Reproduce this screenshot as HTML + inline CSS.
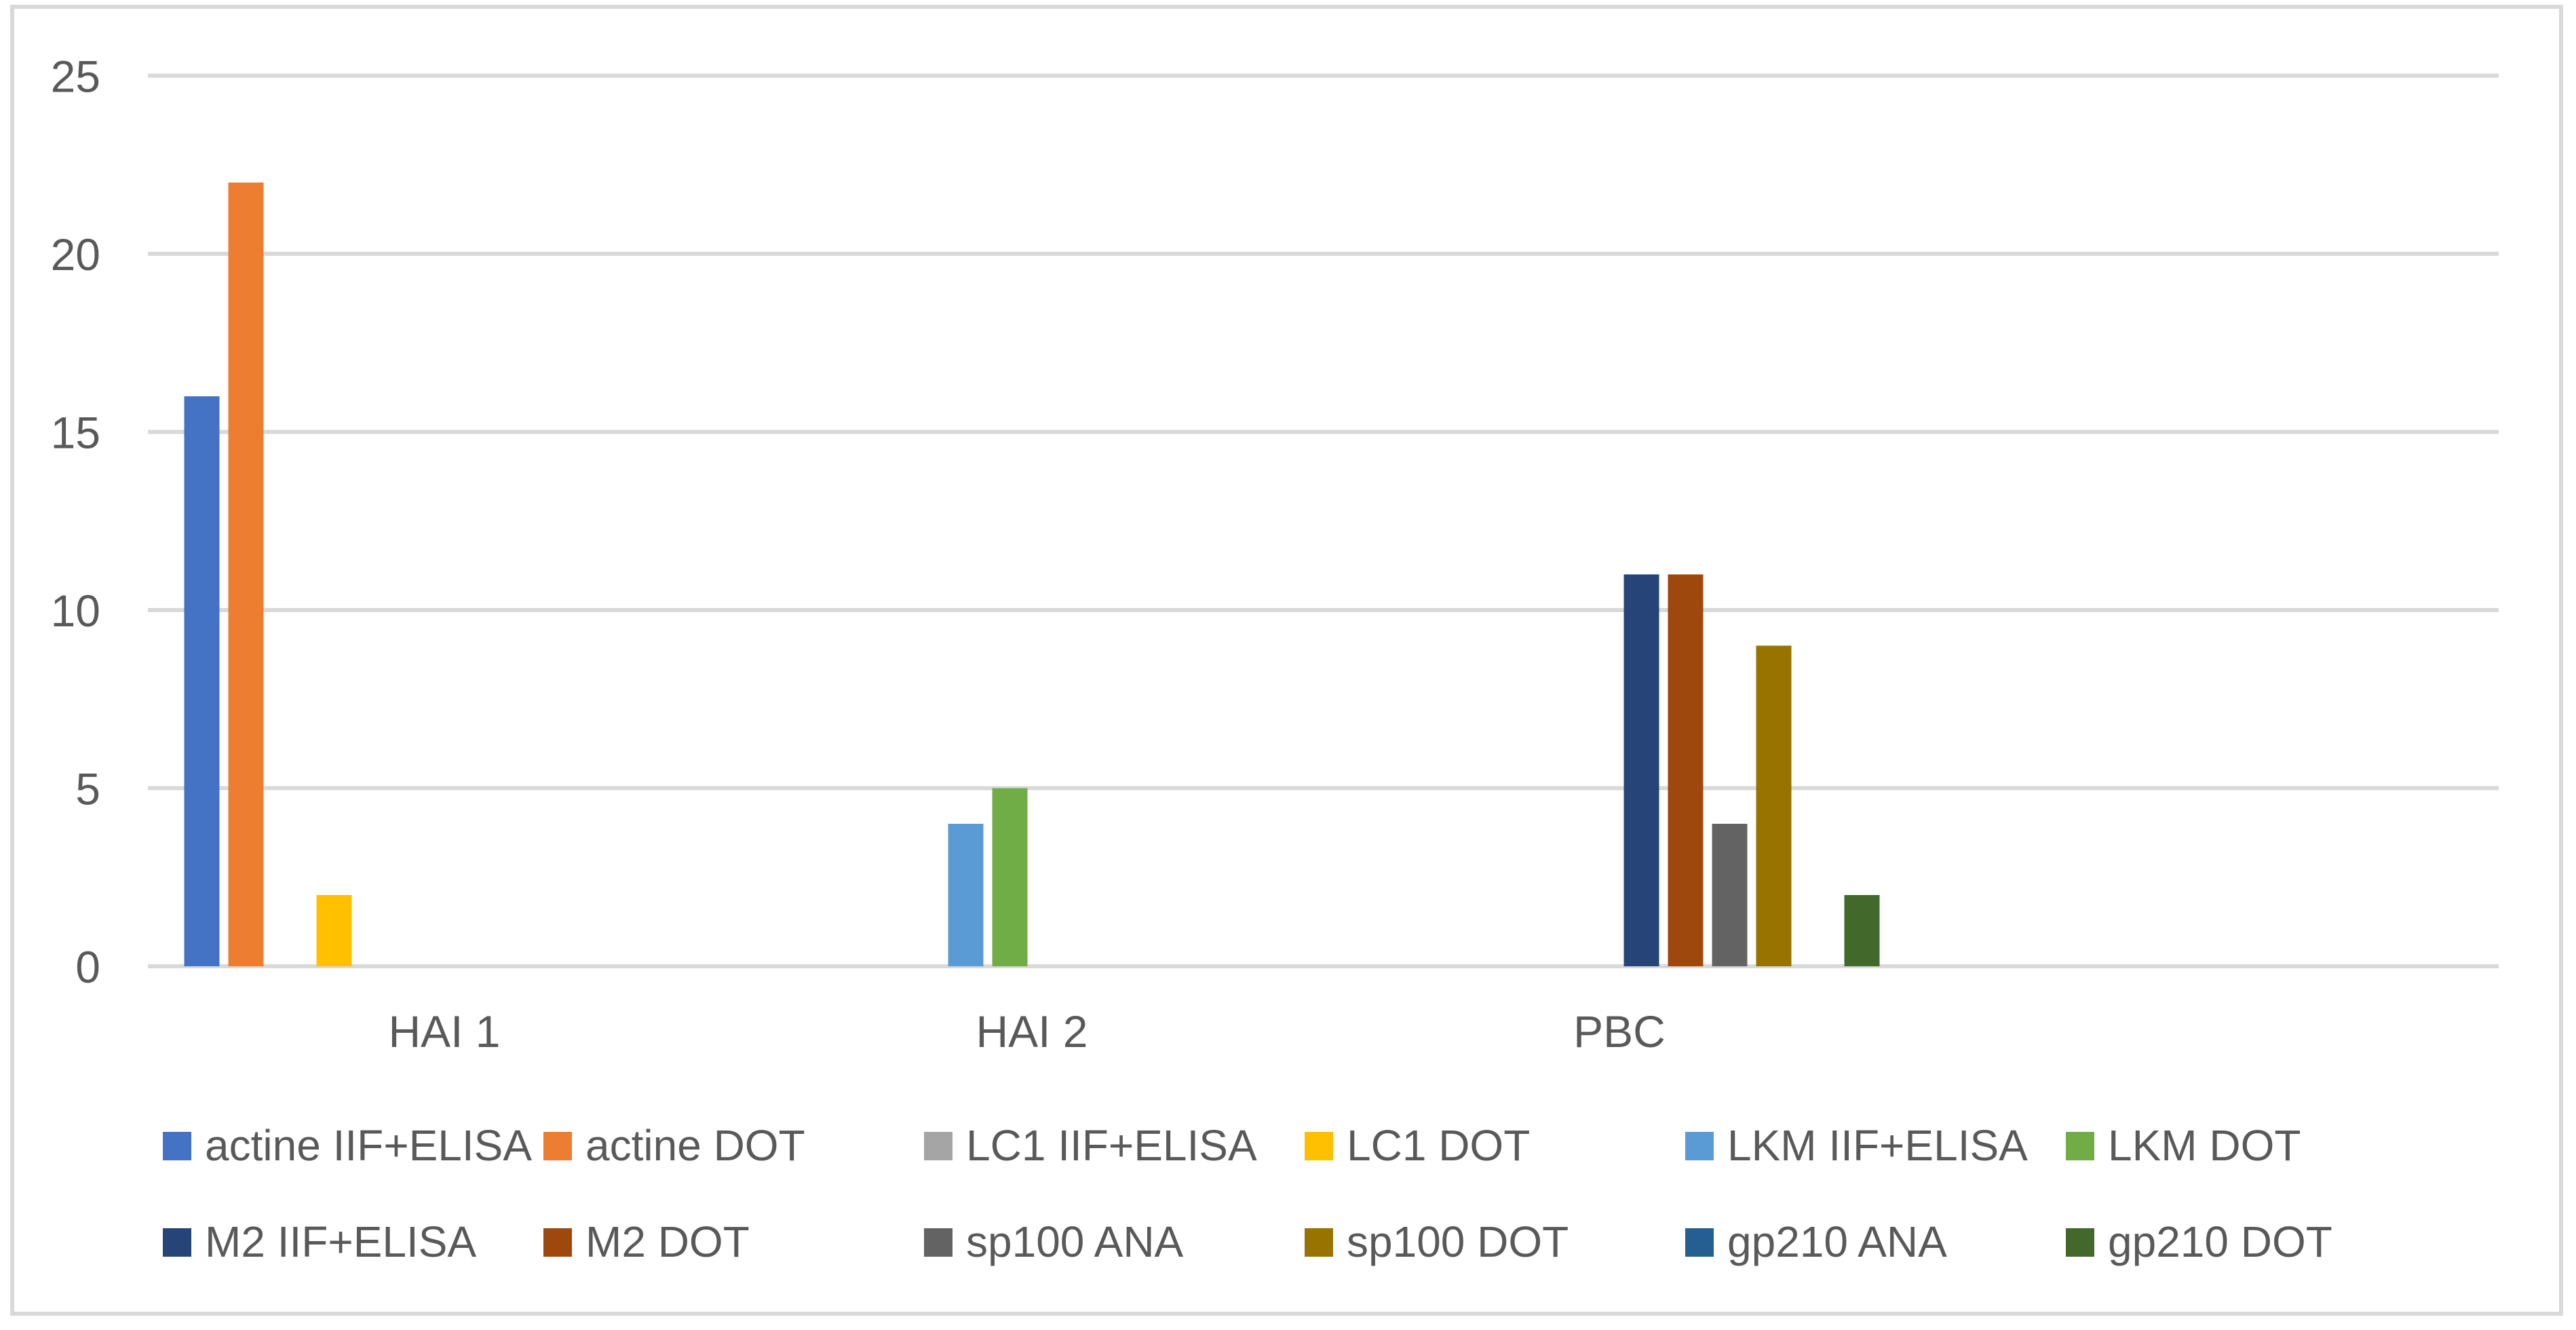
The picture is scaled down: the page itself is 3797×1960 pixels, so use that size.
<!DOCTYPE html>
<html><head><meta charset="utf-8"><style>
body{margin:0;background:#fff;}
svg{display:block;font-family:"Liberation Sans",sans-serif;}
</style></head><body>
<svg id="chart" width="3797" height="1960">
<rect x="18" y="10" width="3757" height="1926" fill="#fff" stroke="#d9d9d9" stroke-width="6"/>
<g id="grid"></g><g id="yticks"></g><g id="bars"></g><g id="xlabels"></g><g id="legend"></g>
</svg>
<script>
const categories = ["HAI 1", "HAI 2", "PBC", ""];
const seriesNames = ["actine IIF+ELISA","actine DOT","LC1 IIF+ELISA","LC1 DOT","LKM IIF+ELISA","LKM DOT","M2 IIF+ELISA","M2 DOT","sp100 ANA","sp100 DOT","gp210 ANA","gp210 DOT"];
const seriesColors = ["#4472C4","#ED7D31","#A5A5A5","#FFC000","#5B9BD5","#70AD47","#264478","#9E480E","#636363","#997300","#255E91","#43682B"];
const hai1Values = [16,22,0,2,0,0,0,0,0,0,0,0];
const hai2Values = [0,0,0,0,4,5,0,0,0,0,0,0];
const pbcValues  = [0,0,0,0,0,0,11,11,4,9,0,2];
const emptyValues = [0,0,0,0,0,0,0,0,0,0,0,0];
const tickValues = [0,5,10,15,20,25];

const NS="http://www.w3.org/2000/svg";
const values=[hai1Values,hai2Values,pbcValues,emptyValues];
const y0=1424, unit=52.5, plotX=222, catW=866, step=65, barW=52;
function yScale(v){return y0-v*unit;}
function catCenter(i){return plotX+catW*i+catW/2;}
function barX(ci,si){return catCenter(ci)-6*step+(step-barW)/2+si*step;}
function mk(tag,attrs,parent){const e=document.createElementNS(NS,tag);for(const k in attrs)e.setAttribute(k,attrs[k]);parent.appendChild(e);return e;}

const grid=document.getElementById('grid'),yt=document.getElementById('yticks');
tickValues.forEach(t=>{
  const l=mk('line',{x1:218,x2:3683,y1:yScale(t),y2:yScale(t),stroke:'#d9d9d9','stroke-width':6},grid);
  
  
  const tx=mk('text',{x:148,y:yScale(t)+24,'text-anchor':'end','font-size':66,fill:'#595959'},yt);
  tx.textContent=t;
  
  
});
const bars=document.getElementById('bars');
values.forEach((vals,ci)=>{
  vals.forEach((v,si)=>{
    if(v<=0)return;
    const r=mk('rect',{x:barX(ci,si),y:yScale(v),width:barW,height:y0-yScale(v),fill:seriesColors[si]},bars);
    
    
  });
});
const xl=document.getElementById('xlabels');
categories.forEach((c,ci)=>{
  if(!c)return;
  const t=mk('text',{x:catCenter(ci),y:1543,'text-anchor':'middle','font-size':66,fill:'#595959'},xl);
  t.textContent=c;
  
  
});
const lg=document.getElementById('legend');
seriesNames.forEach((n,i)=>{
  const col=i%6,row=Math.floor(i/6);
  const x=240+col*561, yb=1710+row*142;
  const s=mk('rect',{x:x,y:yb-42,width:42,height:42,fill:seriesColors[i]},lg);
  
  
  const t=mk('text',{x:x+62,y:yb,'font-size':64,fill:'#595959'},lg);
  t.textContent=n;
  
  
});
</script>
</body></html>
